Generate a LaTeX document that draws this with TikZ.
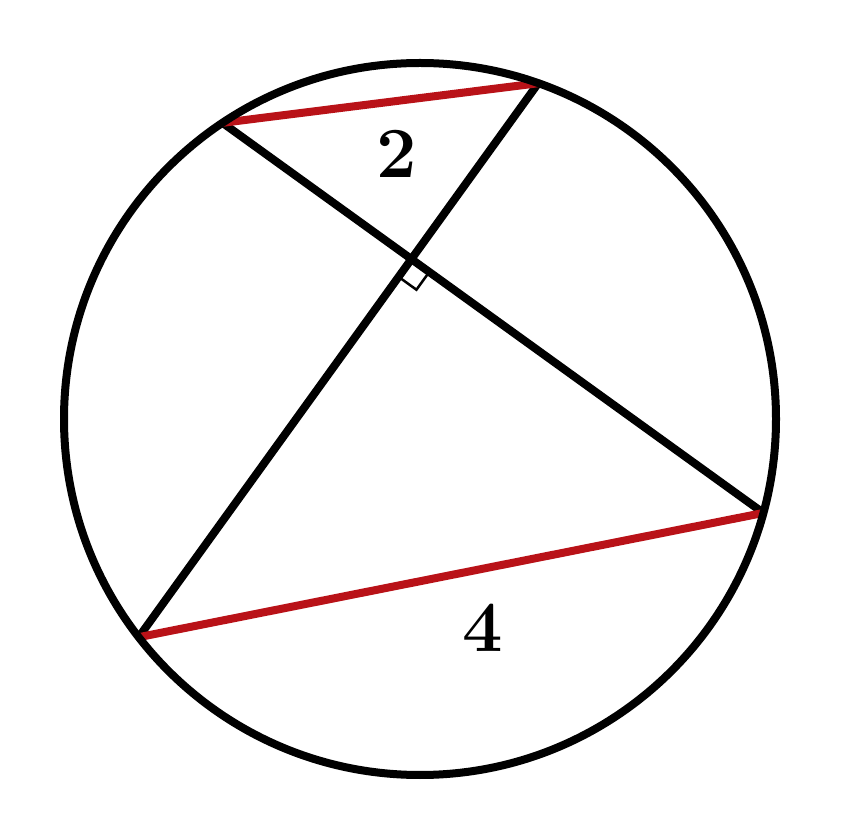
\documentclass[tikz,border=0pt]{standalone}
\usetikzlibrary{calc}
\definecolor{chordred}{RGB}{185,18,24}
\begin{document}
\begin{tikzpicture}[x=1pt,y=1pt,
  chord/.style={line width=8pt,black},
  redchord/.style={line width=8pt,chordred},
  ring/.style={line width=8pt,black},
  rmark/.style={line width=2.5pt,black},
  lab/.style={font=\fontsize{72}{72}\selectfont\bfseries,inner sep=0pt}]
\useasboundingbox (0,0) rectangle (862,825);
\coordinate (O) at (420,406);
\coordinate (A) at ($(O)+(123.7:356)$);
\coordinate (B) at ($(O)+(70.6:356)$);
\coordinate (C) at ($(O)+(-15.3:356)$);
\coordinate (D) at ($(O)+(217.8:356)$);
\coordinate (P) at (intersection of A--C and B--D);
\coordinate (Q1) at ($(P)!22pt!(D)$);
\coordinate (Q2) at ($(P)!22pt!(C)$);
\coordinate (Q3) at ($(Q1)+(Q2)-(P)$);
\draw[rmark] (Q1) -- (Q3) -- (Q2);
\draw[chord] (A) -- (C);
\draw[chord] (B) -- (D);
\draw[redchord] (A) -- (B);
\draw[redchord] (D) -- (C);
\draw[ring] (O) circle (356);
\node[lab] (l2) at (397,671) {2};
\node[lab] (l4) at (483,197) {4};
\end{tikzpicture}
\end{document}
